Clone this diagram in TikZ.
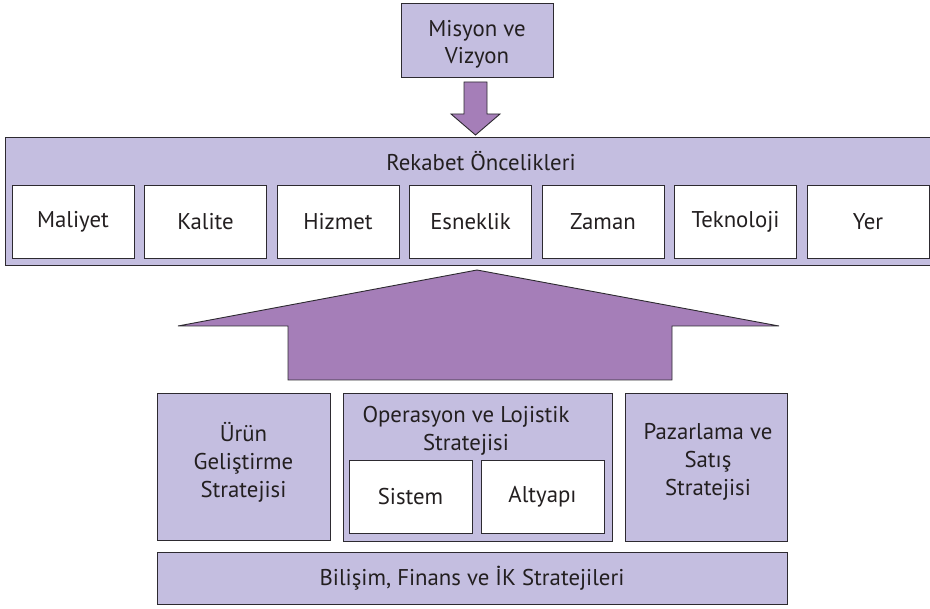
\documentclass[tikz,border=0pt]{standalone}
\usepackage{fontspec}
\setmainfont{PT Sans}
\begin{document}
\begin{tikzpicture}[x=1pt,y=-1pt,
  lav/.style={fill=lavfill, draw=edge, line width=0.9pt, rectangle, inner sep=0pt},
  whitebox/.style={fill=white, draw=edge, line width=0.9pt, rectangle, inner sep=0pt,
    minimum width=122pt, minimum height=73pt},
  lbl/.style={font=\fontsize{22.8}{28}\selectfont, text=txt, align=center, inner sep=0pt},
  bigarrow/.style={fill=arrowfill, draw=edge, line width=0.9pt, line join=miter}]
\definecolor{lavfill}{RGB}{196,190,224}
\definecolor{arrowfill}{RGB}{165,126,184}
\definecolor{edge}{RGB}{45,42,48}
\definecolor{txt}{RGB}{35,31,32}
\useasboundingbox (0,0) rectangle (930,609);

% mission box and arrow down
\node[lav, minimum width=152pt, minimum height=74pt] (mis) at (477,40) {};
\node[lbl, font=\fontsize{22.8}{27}\selectfont] (mistext) at (477,44) {Misyon ve\\Vizyon};

% competitive priorities panel
\node[lav, minimum width=930pt, minimum height=128pt] (rek) at (470,201) {};
\node[lbl] (rektitle) at (481,161) {Rekabet Öncelikleri};
\foreach \name/\t [count=\i from 0] in {mal/Maliyet,kal/Kalite,hiz/Hizmet,esn/Esneklik,zam/Zaman,tek/Teknoloji,yer/Yer}{
  \node[whitebox] (\name) at (73+132.5*\i,221.5) {};
  \node[lbl] at (\name) {\t};
}

\draw[bigarrow] (464,82) -- (487,82) -- (487,114) -- (500,114) -- (475.5,135)
  -- (451,114) -- (464,114) -- cycle;

% broad upward arrow
\draw[bigarrow] (477,270) -- (779,326) -- (672,326) -- (672,380) -- (288,380)
  -- (288,326) -- (178,326) -- cycle;

% functional strategies
\node[lav, minimum width=173pt, minimum height=147pt] (urun) at (243.5,466.5) {};
\node[lbl] at (243.5,462) {Ürün\\Geliştirme\\Stratejisi};

\node[lav, minimum width=269pt, minimum height=148pt] (ops) at (477.5,467) {};
\node[lbl] (opstext) at (466,431) {Operasyon ve Lojistik\\Stratejisi};
\node[whitebox, minimum width=123pt, minimum height=73pt] (sis) at (410.5,496.5) {};
\node[lbl] at (sis) {Sistem};
\node[whitebox, minimum width=123pt, minimum height=73pt] (alt) at (542.5,496.5) {};
\node[lbl] at (alt) {Altyapı};

\node[lav, minimum width=162pt, minimum height=148pt] (paz) at (706,467) {};
\node[lbl] at (708,462) {Pazarlama ve\\Satış\\Stratejisi};

\node[lav, minimum width=630pt, minimum height=52pt] (bil) at (472,578) {};
\node[lbl] at (bil) {Bilişim, Finans ve İK Stratejileri};
\end{tikzpicture}
\end{document}
